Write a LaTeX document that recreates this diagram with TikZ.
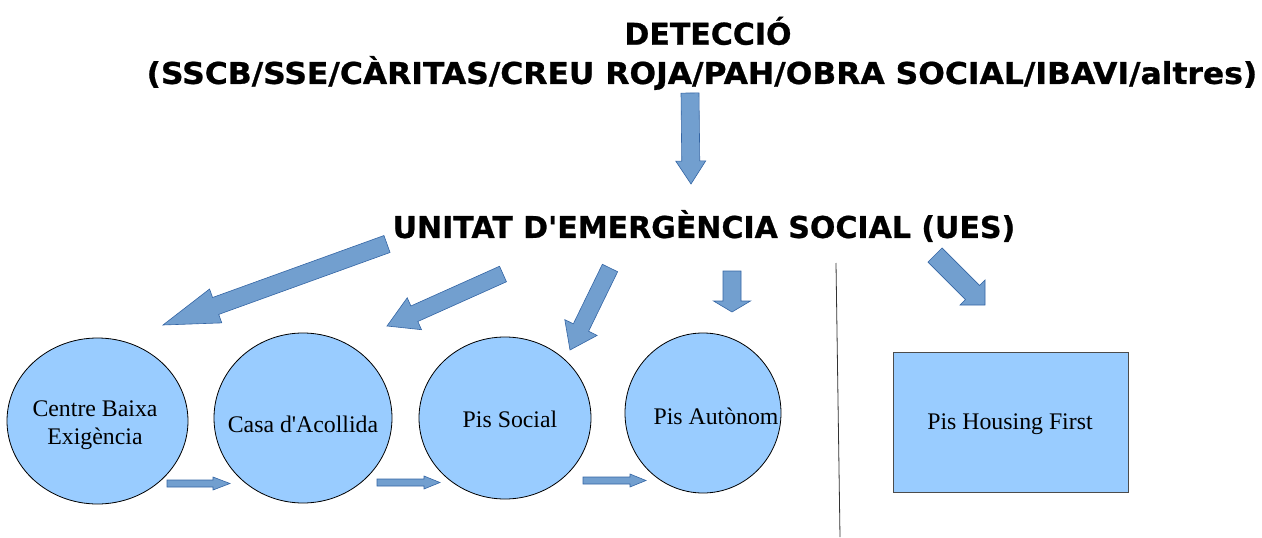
\documentclass[tikz,border=0pt]{standalone}
\usepackage{fontspec}
\setmainfont{Liberation Serif}
\newfontfamily\hfont{DejaVu Sans}[BoldFeatures={FakeBold=0.8}]
\usetikzlibrary{calc,shapes.geometric}
\definecolor{ellfill}{HTML}{99CCFF}
\definecolor{arrfill}{HTML}{729FCF}
\definecolor{arrdraw}{HTML}{3465A4}
\tikzset{
  ell/.style={ellipse, draw=black, line width=0.8pt, fill=ellfill, inner sep=0pt},
  boxnode/.style={rectangle, draw=black!70, line width=0.9pt, fill=ellfill, inner sep=0pt},
  blockarrow/.style={fill=arrfill, draw=arrdraw, line width=0.6pt, line join=miter},
  headtxt/.style={font=\hfont\bfseries\fontsize{30}{35}\selectfont, inner sep=0pt},
  lbl/.style={font=\fontsize{23.8}{28}\selectfont, align=center, inner sep=0pt},
}
% block arrow: tail, tip, shaft half width, head half width, head length
\newcommand\barrow[5]{%
  \path ($(#2)!#5!(#1)$) coordinate (bah);
  \draw[blockarrow] ($(#1)!#3!90:(#2)$) -- ($(bah)!#3!-90:(#1)$) -- ($(bah)!#4!-90:(#1)$) -- (#2)
    -- ($(bah)!#4!90:(#1)$) -- ($(bah)!#3!90:(#1)$) -- ($(#1)!#3!-90:(#2)$) -- cycle;
}
\begin{document}
\begin{tikzpicture}[x=1pt,y=-1pt]
\useasboundingbox (0,0) rectangle (1262,538);
% titles
\node[headtxt] (det) at (708,31) {DETECCIÓ};
\node[headtxt, xscale=1.046] (org) at (702,73) {(SSCB/SSE/CÀRITAS/CREU ROJA/PAH/OBRA SOCIAL/IBAVI/altres)};
\node[headtxt] (ues) at (704,226) {UNITAT D\textquotesingle EMERGÈNCIA SOCIAL (UES)};
% ellipses
\node[ell, minimum width=181pt, minimum height=166pt] (e1) at (97.5,421) {};
\node[ell, minimum width=178pt, minimum height=170pt] (e2) at (303,418) {};
\node[ell, minimum width=172pt, minimum height=162pt] (e3) at (505,418) {};
\node[ell, minimum width=156pt, minimum height=160pt] (e4) at (703,413) {};
\node[boxnode, minimum width=235pt, minimum height=140pt] (hf) at (1010.5,422) {};
% labels
\node[lbl] (t1) at (95,425) {Centre Baixa\\Exigència};
\node[lbl] (t2) at (303,424) {Casa d\textquotesingle Acollida};
\node[lbl] (t3) at (510,419) {Pis Social};
\node[lbl] (t4) at (716,416) {Pis Autònom};
\node[lbl] (t5) at (1010,424) {Pis Housing First};
% divider
\coordinate (vt) at (836,263);
\coordinate (vb) at (840,537);
\draw[black!80, line width=0.8pt] (vt) -- (vb);
% arrow anchor points
\coordinate (a0s) at (690,93);   \coordinate (a0e) at (691,184);
\coordinate (a1s) at (387,244);  \coordinate (a1e) at (163,325);
\coordinate (a2s) at (503,274);  \coordinate (a2e) at (387,326);
\coordinate (a3s) at (610,268);  \coordinate (a3e) at (570,350);
\coordinate (a4s) at (732,271);  \coordinate (a4e) at (732,312);
\coordinate (a5s) at (935,255);  \coordinate (a5e) at (985,305);
\coordinate (h1s) at (167,483.5); \coordinate (h1e) at (230,483.5);
\coordinate (h2s) at (377,482.5); \coordinate (h2e) at (440,482.5);
\coordinate (h3s) at (583,480.5); \coordinate (h3e) at (646,480.5);
\barrow{a0s}{a0e}{9pt}{15pt}{23pt}
\barrow{a1s}{a1e}{9pt}{18pt}{56pt}
\barrow{a2s}{a2e}{8.5pt}{17.5pt}{30pt}
\barrow{a3s}{a3e}{8.5pt}{18pt}{25pt}
\barrow{a4s}{a4e}{9pt}{18.5pt}{11pt}
\barrow{a5s}{a5e}{10pt}{17.7pt}{17.7pt}
\barrow{h1s}{h1e}{3.5pt}{6.5pt}{17pt}
\barrow{h2s}{h2e}{3.5pt}{6.5pt}{16pt}
\barrow{h3s}{h3e}{3.5pt}{6.5pt}{16pt}
\end{tikzpicture}
\end{document}
